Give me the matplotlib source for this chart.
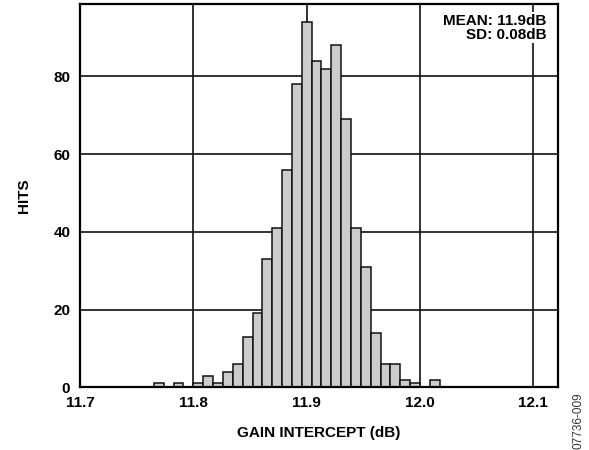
import matplotlib
matplotlib.use("Agg")
import matplotlib.pyplot as plt

# Bin left edges (dB) and counts
bin_lefts = [11.7652, 11.7826, 11.8000, 11.8087, 11.8174, 11.8261, 11.8348,
             11.8435, 11.8522, 11.8609, 11.8696, 11.8783, 11.8870, 11.8957,
             11.9043, 11.9130, 11.9217, 11.9304, 11.9391, 11.9478, 11.9565,
             11.9652, 11.9739, 11.9826, 11.9913, 12.0087]
hits = [1, 1, 1, 3, 1, 4, 6, 13, 19, 33, 41, 56, 78, 94, 84, 82, 88, 69,
        41, 31, 14, 6, 6, 2, 1, 2]
bin_width = 0.0087

x_ticks = [11.7, 11.8, 11.9, 12.0, 12.1]
x_tick_labels = ["11.7", "11.8", "11.9", "12.0", "12.1"]
y_ticks = [0, 20, 40, 60, 80]

plt.rcParams['font.family'] = ['Liberation Sans', 'DejaVu Sans']

fig = plt.figure(figsize=(5.89, 4.50), dpi=100)
ax = fig.add_axes([80/589, 1 - 387.3/450, (558.3 - 80)/589, (387.3 - 4)/450])

ax.bar(bin_lefts, hits, width=bin_width, align='edge', color='#cccccc',
       edgecolor='#111111', linewidth=1.1, zorder=3)

ax.set_xlim(11.7, 12.122)
ax.set_ylim(0, 98.6)
ax.set_xticks(x_ticks)
ax.set_xticklabels(x_tick_labels)
ax.set_yticks(y_ticks)
ax.grid(True, color='#111111', linewidth=1.2, zorder=0)
ax.set_axisbelow(True)
ax.tick_params(axis='x', length=0, labelsize=11, pad=6)
ax.tick_params(axis='y', length=0, labelsize=11, pad=7)
for lab in ax.get_xticklabels() + ax.get_yticklabels():
    lab.set_fontweight('bold')
for s in ax.spines.values():
    s.set_linewidth(1.6)
    s.set_zorder(5)

ax.set_xlabel("GAIN INTERCEPT (dB)", fontsize=11, fontweight='bold', labelpad=12)
ax.set_ylabel("HITS", fontsize=11, fontweight='bold', labelpad=16)

ax.text(0.975, 0.975, "MEAN: 11.9dB\nSD: 0.08dB", transform=ax.transAxes,
        ha='right', va='top', fontsize=11, fontweight='bold', linespacing=1.0,
        zorder=6, bbox=dict(facecolor='white', edgecolor='none', pad=1))

fig.text(579/589, 1 - 421/450, "07736-009", rotation=90, ha='center', va='center',
         fontsize=8.5, color='#333333')

fig.savefig("out.png", dpi=100)
